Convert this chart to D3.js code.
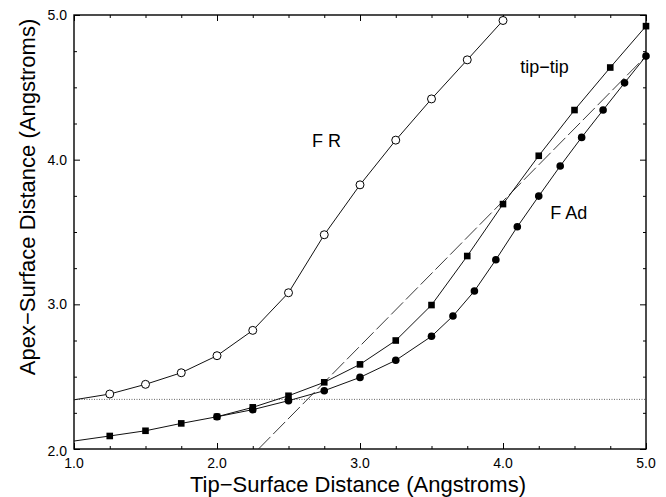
<!DOCTYPE html>
<html><head><meta charset="utf-8">
<script src="https://cdn.jsdelivr.net/npm/d3@7"></script>
<style>body{margin:0;background:#fff}svg{display:block}text{font-family:"Liberation Sans",Arial,Helvetica,sans-serif;fill:#000}</style>
</head><body><div id="chart"></div>
<script>
// ---- data ----
const frX = [1.0,1.25,1.5,1.75,2.0,2.25,2.5,2.75,3.0,3.25,3.5,3.75,4.0];
const frY = [2.34,2.38,2.447,2.527,2.645,2.82,3.08,3.481,3.826,4.135,4.42,4.69,4.962];
const tipX = [1.0,1.25,1.5,1.75,2.0,2.25,2.5,2.75,3.0,3.25,3.5,3.75,4.0,4.25,4.5,4.75,5.0];
const tipY = [2.055,2.09,2.126,2.177,2.223,2.288,2.368,2.461,2.585,2.75,2.995,3.334,3.693,4.027,4.343,4.637,4.923];
const adX = [2.0,2.25,2.5,2.75,3.0,3.25,3.5,3.65,3.8,3.95,4.1,4.25,4.4,4.55,4.7,4.85,5.0];
const adY = [2.223,2.272,2.334,2.403,2.495,2.613,2.779,2.919,3.092,3.308,3.536,3.748,3.956,4.154,4.343,4.531,4.716];
const refX = [2.29,5.0];
const refY = [2.0,4.716];
const baseY = 2.343;
const xTicks = [1.0,2.0,3.0,4.0,5.0];
const yTicks = [2.0,3.0,4.0,5.0];
const xLabels = ["1.0","2.0","3.0","4.0","5.0"];
const yLabels = ["2.0","3.0","4.0","5.0"];
const labels = [{t:"F R",x:2.665,y:4.09},{t:"tip\u2212tip",x:4.12,y:4.6},{t:"F Ad",x:4.33,y:3.59}];

// ---- chart ----
const W=666,H=497, L=74,R=646,T=15,B=449;
const svg=d3.select("#chart").append("svg").attr("width",W).attr("height",H);
const x=d3.scaleLinear().domain([1,5]).range([L,R]);
const y=d3.scaleLinear().domain([2,5]).range([B,T]);
const minorX=d3.range(1,5.001,0.25), minorY=d3.range(2,5.001,0.25);

const g=svg.append("g");
function isMajor(v){return Math.abs(v-Math.round(v))<1e-6;}
g.append("g").attr("transform",`translate(0,${B})`).call(d3.axisTop(x).tickValues(minorX).tickSize(0).tickFormat(""))
 .call(s=>{s.select(".domain").remove();s.selectAll(".tick line").attr("y2",d=>isMajor(d)?-6:-3).attr("stroke","#000");});
g.append("g").attr("transform",`translate(0,${T})`).call(d3.axisBottom(x).tickValues(minorX).tickSize(0).tickFormat(""))
 .call(s=>{s.select(".domain").remove();s.selectAll(".tick line").attr("y2",d=>isMajor(d)?6:3).attr("stroke","#000");});
g.append("g").attr("transform",`translate(${L},0)`).call(d3.axisRight(y).tickValues(minorY).tickSize(0).tickFormat(""))
 .call(s=>{s.select(".domain").remove();s.selectAll(".tick line").attr("x2",d=>isMajor(d)?6:3).attr("stroke","#000");});
g.append("g").attr("transform",`translate(${R},0)`).call(d3.axisLeft(y).tickValues(minorY).tickSize(0).tickFormat(""))
 .call(s=>{s.select(".domain").remove();s.selectAll(".tick line").attr("x2",d=>isMajor(d)?-6:-3).attr("stroke","#000");});
g.append("rect").attr("x",L).attr("y",T).attr("width",R-L).attr("height",B-T).attr("fill","none").attr("stroke","#000").attr("stroke-width",1.4);

g.selectAll(".xl").data(xTicks).enter().append("text").attr("x",d=>x(d)).attr("y",B+19)
 .attr("text-anchor","middle").attr("font-size",14).text((d,i)=>xLabels[i]);
g.selectAll(".yl").data(yTicks).enter().append("text").attr("x",L-7).attr("y",d=>y(d)+5+(d===2?2:0))
 .attr("text-anchor","end").attr("font-size",14).text((d,i)=>yLabels[i]);

svg.append("text").attr("x",358).attr("y",492).attr("text-anchor","middle").attr("font-size",22).text("Tip\u2212Surface Distance (Angstroms)");
svg.append("text").attr("transform","translate(35,197) rotate(-90)").attr("text-anchor","middle").attr("font-size",22).text("Apex\u2212Surface Distance (Angstroms)");

g.append("line").attr("x1",x(1)).attr("x2",x(5)).attr("y1",y(baseY)).attr("y2",y(baseY))
 .attr("stroke","#555").attr("stroke-width",0.9).attr("stroke-dasharray","1,1.5");
const line=d3.line().x(d=>x(d[0])).y(d=>y(d[1]));
g.append("path").attr("d",line(d3.zip(refX,refY))).attr("fill","none").attr("stroke","#222").attr("stroke-width",0.9).attr("stroke-dasharray","17,4");

[[frX,frY],[tipX,tipY],[adX,adY]].forEach(([xs,ys])=>{
  g.append("path").attr("d",line(d3.zip(xs,ys))).attr("fill","none").attr("stroke","#111").attr("stroke-width",1);
});
const fr=d3.zip(frX,frY).filter(d=>d[0]>1);
g.selectAll(".fr").data(fr).enter().append("circle").attr("cx",d=>x(d[0])).attr("cy",d=>y(d[1])).attr("r",4)
 .attr("fill","#fff").attr("stroke","#000").attr("stroke-width",1);
const tp=d3.zip(tipX,tipY).filter(d=>d[0]>1);
g.selectAll(".tp").data(tp).enter().append("rect").attr("x",d=>x(d[0])-3.3).attr("y",d=>y(d[1])-3.3).attr("width",6.6).attr("height",6.6).attr("fill","#000");
g.selectAll(".ad").data(d3.zip(adX,adY)).enter().append("circle").attr("cx",d=>x(d[0])).attr("cy",d=>y(d[1])).attr("r",3.8).attr("fill","#000");

g.selectAll(".lab").data(labels).enter().append("text").attr("x",d=>x(d.x)).attr("y",d=>y(d.y)).attr("font-size",18).text(d=>d.t);
</script></body></html>
